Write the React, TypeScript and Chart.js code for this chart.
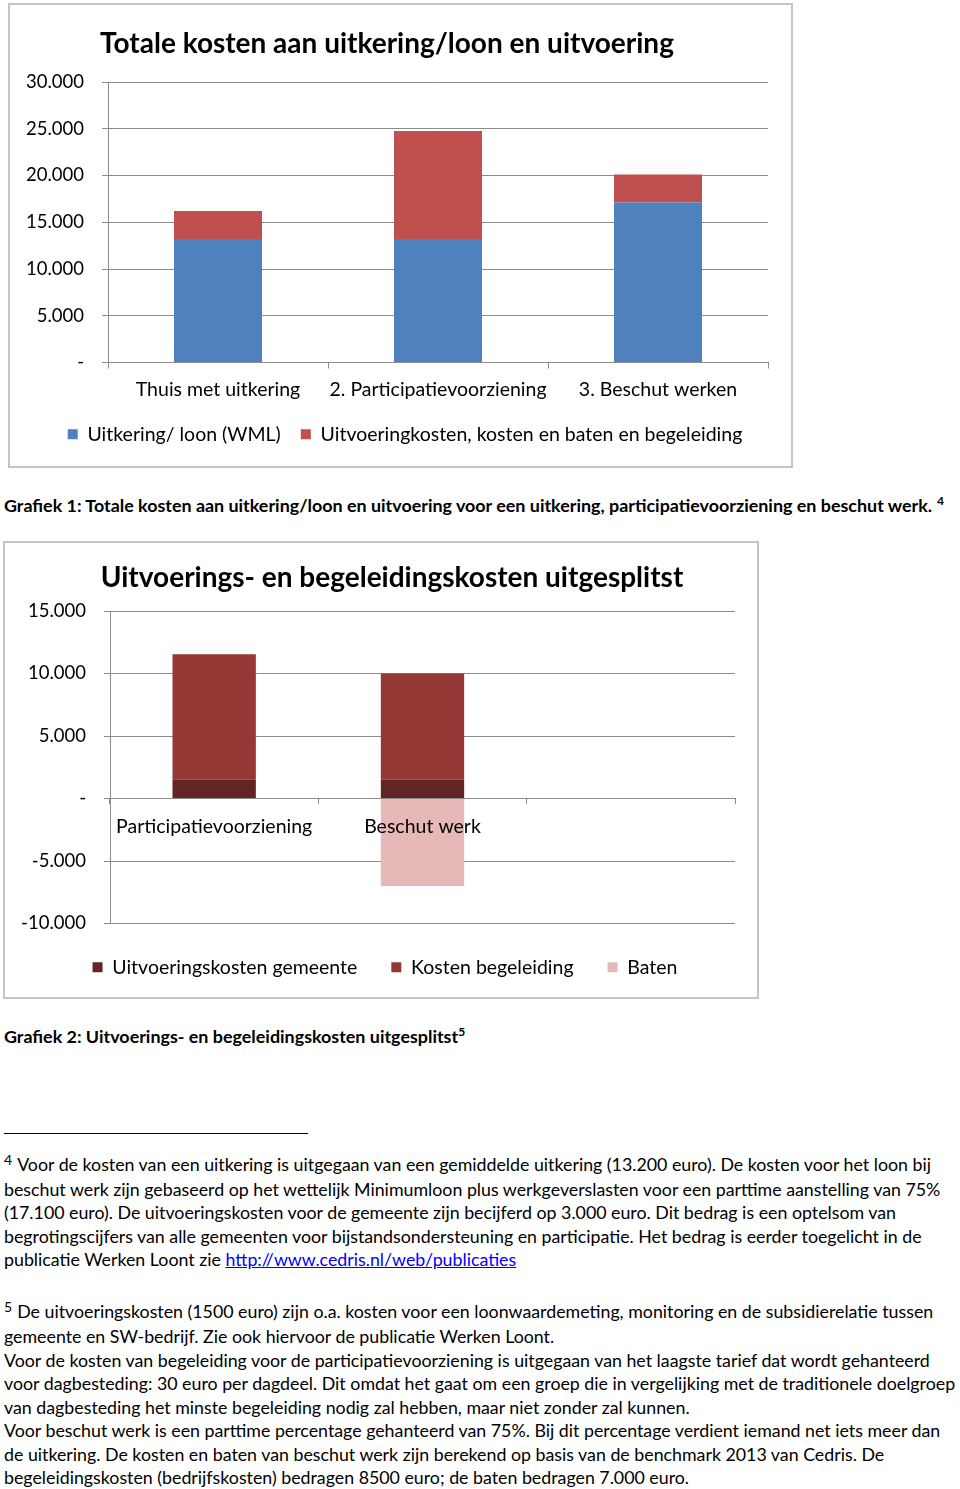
import React, { useEffect, useRef } from 'react';
import { Chart, registerables } from 'chart.js';

Chart.register(...registerables);

const FONT = 'Lato, "Open Sans", sans-serif';

// ---- Chart 1 data ----
const c1Title = 'Totale kosten aan uitkering/loon en uitvoering';
const c1Categories = ['Thuis met uitkering', '2. Participatievoorziening', '3. Beschut werken'];
const c1SeriesNames = ['Uitkering/ loon (WML)', 'Uitvoeringkosten, kosten en baten en begeleiding'];
const c1Uitkering = [13200, 13200, 17100];
const c1Uitvoering = [3000, 11550, 3000];
const c1YMin = 0;
const c1YMax = 30000;
const c1YStep = 5000;

// ---- Chart 2 data ----
const c2Title = 'Uitvoerings- en begeleidingskosten uitgesplitst';
const c2Categories = ['Participatievoorziening', 'Beschut werk', ''];
const c2SeriesNames = ['Uitvoeringskosten gemeente', 'Kosten begeleiding', 'Baten'];
const c2Gemeente = [1500, 1500, null];
const c2Begeleiding = [10050, 8500, null];
const c2Baten = [null, -7000, null];
const c2YMin = -10000;
const c2YMax = 15000;
const c2YStep = 5000;

// ---- Text ----
const caption1 = 'Grafiek 1: Totale kosten aan uitkering/loon en uitvoering voor een uitkering, participatievoorziening en beschut werk.';
const caption2 = 'Grafiek 2: Uitvoerings- en begeleidingskosten uitgesplitst';
const footnote4Lines = [
  'Voor de kosten van een uitkering is uitgegaan van een gemiddelde uitkering (13.200 euro). De kosten voor het loon bij',
  'beschut werk zijn gebaseerd op het wettelijk Minimumloon plus werkgeverslasten voor een parttime aanstelling van 75%',
  '(17.100 euro). De uitvoeringskosten voor de gemeente zijn becijferd op 3.000 euro. Dit bedrag is een optelsom van',
  'begrotingscijfers van alle gemeenten voor bijstandsondersteuning en participatie. Het bedrag is eerder toegelicht in de',
];
const footnote4LastText = 'publicatie Werken Loont zie ';
const footnote4Link = 'http://www.cedris.nl/web/publicaties';
const footnote5Lines = [
  'De uitvoeringskosten (1500 euro) zijn o.a. kosten voor een loonwaardemeting, monitoring en de subsidierelatie tussen',
  'gemeente en SW-bedrijf. Zie ook hiervoor de publicatie Werken Loont.',
  'Voor de kosten van begeleiding voor de participatievoorziening is uitgegaan van het laagste tarief dat wordt gehanteerd',
  'voor dagbesteding: 30 euro per dagdeel. Dit omdat het gaat om een groep die in vergelijking met de traditionele doelgroep',
  'van dagbesteding het minste begeleiding nodig zal hebben, maar niet zonder zal kunnen.',
  'Voor beschut werk is een parttime percentage gehanteerd van 75%. Bij dit percentage verdient iemand net iets meer dan',
  'de uitkering. De kosten en baten van beschut werk zijn berekend op basis van de benchmark 2013 van Cedris. De',
  'begeleidingskosten (bedrijfskosten) bedragen 8500 euro; de baten bedragen 7.000 euro.',
];

const GRID = '#8c8c8c';
const LABEL_SIZE = 19.5;

function fmt(v: number): string {
  if (v === 0) return '-';
  const neg = v < 0;
  const s = String(Math.abs(Math.round(v))).replace(/\B(?=(\d{3})+(?!\d))/g, '.');
  return (neg ? '-' : '') + s;
}

const posTitle = {
  id: 'posTitle',
  afterDraw(chart: any, _args: any, opts: any) {
    const ctx = chart.ctx;
    ctx.save();
    ctx.font = `bold ${opts.size}px ${FONT}`;
    ctx.fillStyle = '#000';
    ctx.textAlign = 'center';
    ctx.textBaseline = 'middle';
    ctx.fillText(opts.text, opts.x, opts.y);
    ctx.restore();
  },
};

const legendShift = {
  id: 'legendShift',
  afterLayout(chart: any, _args: any, opts: any) {
    const lg = chart.legend;
    if (lg && opts && opts.dx) {
      lg.left += opts.dx;
      lg.right += opts.dx;
    }
  },
};

function yScale(min: number, max: number, step: number, width: number) {
  return {
    stacked: true,
    min,
    max,
    ticks: {
      stepSize: step,
      callback: (v: any) => fmt(Number(v)),
      font: { family: FONT, size: 18.5 },
      color: '#000',
      padding: 18,
    },
    grid: { color: GRID, tickLength: 6, lineWidth: 1 },
    border: { color: GRID, width: 1 },
    afterFit: (s: any) => {
      s.width = width;
    },
  };
}

function legendOpts(padding: number) {
  return {
    position: 'bottom',
    labels: {
      boxWidth: 10,
      boxHeight: 10,
      padding,
      font: { family: FONT, size: LABEL_SIZE },
      color: '#000',
    },
  };
}

function ChartOne() {
  const ref = useRef<HTMLCanvasElement>(null);
  useEffect(() => {
    const chart = new Chart(ref.current!, {
      type: 'bar',
      data: {
        labels: c1Categories,
        datasets: [
          { label: c1SeriesNames[0], data: c1Uitkering, backgroundColor: '#4F81BD', categoryPercentage: 0.4, barPercentage: 1 },
          { label: c1SeriesNames[1], data: c1Uitvoering, backgroundColor: '#C0504D', categoryPercentage: 0.4, barPercentage: 1 },
        ],
      },
      plugins: [posTitle, legendShift],
      options: {
        responsive: false,
        animation: false,
        layout: { padding: { left: 0, right: 23, top: 77, bottom: 12 } },
        plugins: {
          title: { display: false },
          posTitle: { text: c1Title, x: 377, y: 39, size: 28 },
          legendShift: { dx: 16 },
          legend: legendOpts(20) as any,
          tooltip: { enabled: false },
        } as any,
        scales: {
          x: {
            stacked: true,
            grid: { drawOnChartArea: false, drawTicks: true, tickLength: 6, color: GRID, offset: true },
            border: { color: GRID },
            ticks: { font: { family: FONT, size: LABEL_SIZE }, color: '#000', padding: 10, maxRotation: 0, autoSkip: false },
            afterFit: (s: any) => {
              s.height = 42;
            },
          },
          y: yScale(c1YMin, c1YMax, c1YStep, 98) as any,
        },
      },
    });
    return () => chart.destroy();
  }, []);
  return <canvas ref={ref} width={781} height={461} style={{ display: 'block' }} />;
}

function ChartTwo() {
  const ref = useRef<HTMLCanvasElement>(null);
  useEffect(() => {
    const chart = new Chart(ref.current!, {
      type: 'bar',
      data: {
        labels: c2Categories,
        datasets: [
          { label: c2SeriesNames[0], data: c2Gemeente as any, backgroundColor: '#632523', categoryPercentage: 0.4, barPercentage: 1 },
          { label: c2SeriesNames[1], data: c2Begeleiding as any, backgroundColor: '#953735', categoryPercentage: 0.4, barPercentage: 1 },
          { label: c2SeriesNames[2], data: c2Baten as any, backgroundColor: '#E6B9B8', categoryPercentage: 0.4, barPercentage: 1 },
        ],
      },
      plugins: [posTitle, legendShift],
      options: {
        responsive: false,
        animation: false,
        layout: { padding: { left: 0, right: 22, top: 68, bottom: 10 } },
        plugins: {
          title: { display: false },
          posTitle: { text: c2Title, x: 387, y: 35, size: 28 },
          legendShift: { dx: 15 },
          legend: legendOpts(34) as any,
          tooltip: { enabled: false },
        } as any,
        scales: {
          x: {
            stacked: true,
            position: { y: 0 } as any,
            grid: { drawOnChartArea: false, drawTicks: true, tickLength: 5, color: GRID, offset: true },
            border: { color: GRID },
            ticks: { font: { family: FONT, size: LABEL_SIZE }, color: '#000', padding: 12, maxRotation: 0, autoSkip: false, z: 1 },
          },
          y: yScale(c2YMin, c2YMax, c2YStep, 105) as any,
        },
      },
    });
    return () => chart.destroy();
  }, []);
  return <canvas ref={ref} width={752} height={454} style={{ display: 'block' }} />;
}

const textStyle: React.CSSProperties = {
  position: 'absolute',
  left: 4,
  whiteSpace: 'nowrap',
  fontFamily: FONT,
  fontSize: 17.8,
  lineHeight: '20px',
  color: '#000',
};

function Lines({ lines, top, step, first }: { lines: React.ReactNode[]; top: number; step: number; first: number }) {
  return (
    <>
      {lines.map((l, i) => (
        <div key={i} style={{ ...textStyle, top: i === 0 ? top : top + first + (i - 1) * step }}>
          {l}
        </div>
      ))}
    </>
  );
}

export default function App() {
  const sup = (n: string) => (
    <span style={{ fontSize: 14, position: 'relative', top: -6, marginRight: 5 }}>{n}</span>
  );
  const fn4: React.ReactNode[] = footnote4Lines.map((l, i) => (i === 0 ? <>{sup('4')}{l}</> : l));
  fn4.push(
    <>
      {footnote4LastText}
      <span style={{ color: '#0000FF', textDecoration: 'underline' }}>{footnote4Link}</span>
    </>
  );
  const fn5: React.ReactNode[] = footnote5Lines.map((l, i) => (i === 0 ? <>{sup('5')}{l}</> : l));

  return (
    <div style={{ position: 'absolute', left: 0, top: 0, width: 960, height: 1489, background: '#fff', overflow: 'hidden' }}>
      <div style={{ position: 'absolute', left: 8, top: 3, width: 785, height: 465, border: '2px solid #c4c4c4', boxSizing: 'border-box', background: '#fff' }}>
        <ChartOne />
      </div>
      <div style={{ ...textStyle, top: 495, fontWeight: 'bold', fontSize: 17.9 }}>
        {caption1}
        <span style={{ fontSize: 12, position: 'relative', top: -7, marginLeft: 5 }}>4</span>
      </div>
      <div style={{ position: 'absolute', left: 3, top: 541, width: 756, height: 458, border: '2px solid #c4c4c4', boxSizing: 'border-box', background: '#fff' }}>
        <ChartTwo />
      </div>
      <div style={{ ...textStyle, top: 1026, fontWeight: 'bold', fontSize: 17.9 }}>
        {caption2}
        <span style={{ fontSize: 12, position: 'relative', top: -7 }}>5</span>
      </div>
      <div style={{ position: 'absolute', left: 4, top: 1133, width: 304, height: 1, background: '#000' }} />
      <Lines lines={fn4} top={1154} step={23.3} first={25} />
      <Lines lines={fn5} top={1301} step={23.5} first={25} />
    </div>
  );
}
